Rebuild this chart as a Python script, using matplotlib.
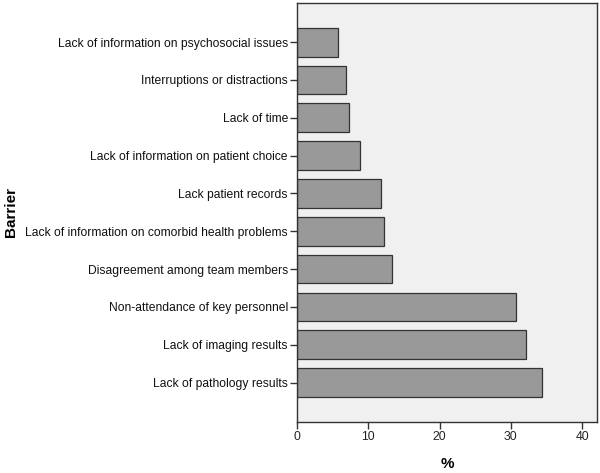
import matplotlib.pyplot as plt

# data, top to bottom
barriers = ['Lack of information on psychosocial issues',
            'Interruptions or distractions',
            'Lack of time',
            'Lack of information on patient choice',
            'Lack patient records',
            'Lack of information on comorbid health problems',
            'Disagreement among team members',
            'Non-attendance of key personnel',
            'Lack of imaging results',
            'Lack of pathology results']
percent = [5.8, 6.9, 7.3, 8.8, 11.8, 12.2, 13.3, 30.7, 32.2, 34.4]
xticks = [0, 10, 20, 30, 40]

plt.rcParams['font.family'] = ['Liberation Sans', 'DejaVu Sans']

fig = plt.figure(figsize=(6, 4.73), dpi=100)
ax = fig.add_axes([0.495, 0.108, 0.5, 0.886])
ax.set_facecolor('#f0f0f0')

pos = list(range(len(barriers)))
ax.barh(pos, percent, height=0.76, color='#999999', edgecolor='#333333', linewidth=0.9)

ax.set_ylim(len(barriers) - 1 + 1.04, -1.04)
ax.set_xlim(0, 42.1)
ax.set_yticks(pos)
ax.set_yticklabels(barriers, fontsize=8.7, color='#111111')
ax.set_xticks(xticks)
ax.set_xticklabels([str(t) for t in xticks], fontsize=8.7, color='#222222')
ax.tick_params(axis='both', length=5, width=1, color='#333333', pad=1.5)

for s in ax.spines.values():
    s.set_color('#333333')
    s.set_linewidth(1)

ax.set_xlabel('%', fontsize=11, fontweight='bold', labelpad=10)
ax.set_ylabel('Barrier', fontsize=11, fontweight='bold')
ax.yaxis.set_label_coords(-0.93, 0.5)

fig.savefig('out.png', dpi=100)
